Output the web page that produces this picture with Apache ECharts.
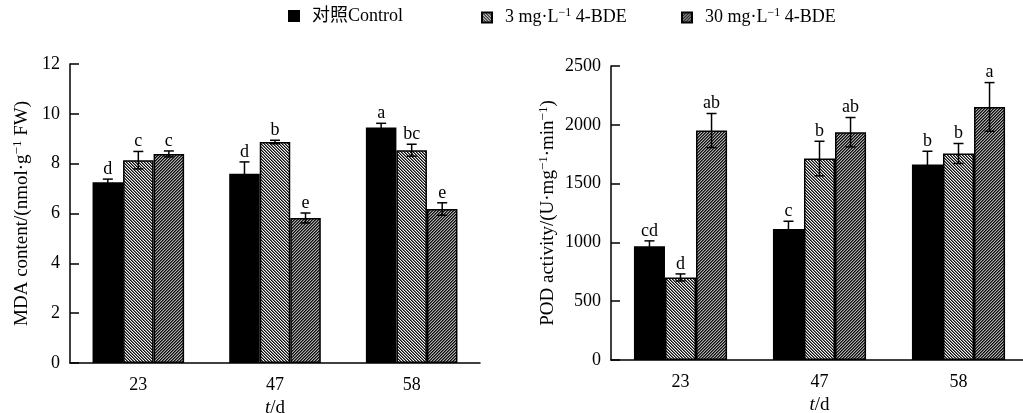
<!DOCTYPE html>
<html>
<head>
<meta charset="utf-8">
<script src="https://cdn.jsdelivr.net/npm/echarts@6/dist/echarts.min.js"></script>
<style>
  html, body { margin: 0; padding: 0; background: #fff; }
  #chart { width: 1023px; height: 413px; }
</style>
</head>
<body>
<div id="chart"></div>
<script>
// categories (days)
var days = ["23", "47", "58"];

// MDA content
var mdaControl = [7.25, 7.6, 9.45];
var mdaControlErr = [0.13, 0.47, 0.17];
var mdaControlSig = ["d", "d", "a"];
var mda3 = [8.14, 8.87, 8.54];
var mda3Err = [0.35, 0.07, 0.24];
var mda3Sig = ["c", "b", "bc"];
var mda30 = [8.39, 5.82, 6.18];
var mda30Err = [0.12, 0.2, 0.25];
var mda30Sig = ["c", "e", "e"];

// POD activity
var podControl = [968, 1115, 1662];
var podControlErr = [45, 65, 113];
var podControlSig = ["cd", "c", "b"];
var pod3 = [702, 1713, 1756];
var pod3Err = [30, 147, 85];
var pod3Sig = ["d", "b", "b"];
var pod30 = [1951, 1937, 2152];
var pod30Err = [145, 125, 207];
var pod30Sig = ["ab", "ab", "a"];

var names = ["对照Control", "3 mg·L−1 4-BDE", "30 mg·L−1 4-BDE"];
var FONT = "'Liberation Serif', 'Noto Sans CJK SC', serif";
var GAP = 0.33;

// striped fill, dir 1 = "/" and -1 = "\", period 3px
function stripes(dir, cols) {
  var c = document.createElement("canvas");
  c.width = 3; c.height = 3;
  var ctx = c.getContext("2d");
  var img = ctx.createImageData(3, 3);
  for (var y = 0; y < 3; y++) {
    for (var x = 0; x < 3; x++) {
      var k = dir > 0 ? (x + y) % 3 : (x - y + 6) % 3;
      var col = cols[k];
      var p = (y * 3 + x) * 4;
      img.data[p] = col; img.data[p + 1] = col; img.data[p + 2] = col; img.data[p + 3] = 255;
    }
  }
  ctx.putImageData(img, 0, 0);
  return { image: c, repeat: "repeat" };
}

var fills = [
  "#000",
  stripes(-1, [15, 110, 245]),
  stripes(1, [15, 80, 175])
];

function barSeries(i, idx, vals) {
  return {
    name: names[i],
    type: "bar",
    xAxisIndex: idx,
    yAxisIndex: idx,
    barGap: 0,
    barCategoryGap: GAP * 100 + "%",
    itemStyle: { color: fills[i], borderColor: "#000", borderWidth: 1.5 },
    data: vals
  };
}

function errSeries(k, idx, vals, errs, sig) {
  return {
    type: "custom",
    xAxisIndex: idx,
    yAxisIndex: idx,
    z: 5,
    silent: true,
    data: vals.map(function (v, i) { return [i, v, errs[i]]; }),
    renderItem: function (params, api) {
      var x = api.value(0), v = api.value(1), e = api.value(2);
      var band = api.size([1, 0])[0];
      var bw = band * (1 - GAP) / 3;
      var hi = api.coord([x, v + e]);
      var lo = api.coord([x, v - e]);
      var cx = hi[0] + k * bw;
      var st = { stroke: "#000", lineWidth: 1.5 };
      return {
        type: "group",
        children: [
          { type: "line", shape: { x1: cx, y1: hi[1], x2: cx, y2: lo[1] }, style: st },
          { type: "line", shape: { x1: cx - 5, y1: hi[1], x2: cx + 5, y2: hi[1] }, style: st },
          { type: "line", shape: { x1: cx - 5, y1: lo[1], x2: cx + 5, y2: lo[1] }, style: st },
          {
            type: "text",
            x: cx, y: hi[1] - 1,
            style: {
              text: sig[params.dataIndex], fill: "#000",
              font: "18px " + FONT, textAlign: "center", textVerticalAlign: "bottom"
            }
          }
        ]
      };
    }
  };
}

var lineStyle = { color: "#000", width: 1.5 };
var nameRich = {
  n: { fontFamily: FONT, fontSize: 19, color: "#000" },
  s: { fontFamily: FONT, fontSize: 13, color: "#000", padding: [0, 0, 9, 0] },
  i: { fontFamily: FONT, fontSize: 19, color: "#000", fontStyle: "italic" }
};

function xAxis(idx) {
  return {
    type: "category",
    gridIndex: idx,
    data: days,
    name: "{i|t}{n|/d}",
    nameLocation: "middle",
    nameGap: 35,
    nameTextStyle: { rich: nameRich },
    axisLine: { lineStyle: lineStyle },
    axisTick: { inside: true, length: 7, lineStyle: lineStyle },
    axisLabel: { color: "#000", fontFamily: FONT, fontSize: 18, margin: 13 }
  };
}

function yAxis(idx, max, interval, name, gap) {
  return {
    type: "value",
    gridIndex: idx,
    min: 0, max: max, interval: interval,
    name: name,
    nameLocation: "middle",
    nameGap: gap,
    nameTextStyle: { rich: nameRich },
    splitLine: { show: false },
    axisLine: { show: true, lineStyle: lineStyle },
    axisTick: { show: true, inside: true, length: 9, lineStyle: lineStyle },
    axisLabel: {
      color: "#000", fontFamily: FONT, fontSize: 18, margin: 10,
      formatter: function (v) { return String(v); }
    }
  };
}

function legend(i, left) {
  return {
    data: [names[i]],
    top: 7,
    left: left,
    padding: 0,
    itemWidth: 10,
    itemHeight: 10,
    itemGap: 0,
    icon: "rect",
    selectedMode: false,
    formatter: function (n) {
      if (n.indexOf("L−1") < 0) return "{t|" + n + "}";
      var p = n.split("L−1");
      return "{t|" + p[0] + "L}{s|−1}{t|" + p[1] + "}";
    },
    textStyle: {
      padding: [0, 0, 0, 8],
      rich: {
        t: { fontFamily: FONT, fontSize: 18, color: "#000" },
        s: { fontFamily: FONT, fontSize: 12, color: "#000", padding: [0, 0, 9, 0] }
      }
    }
  };
}

var chart = echarts.init(document.getElementById("chart"));
chart.setOption({
  animation: false,
  backgroundColor: "#fff",
  legend: [legend(0, 288), legend(1, 481), legend(2, 681)],
  grid: [
    { left: 70, right: 543, top: 64, bottom: 50, outerBoundsMode: "none" },
    { left: 611, right: -5, top: 66, bottom: 53, outerBoundsMode: "none" }
  ],
  xAxis: [xAxis(0), xAxis(1)],
  yAxis: [
    yAxis(0, 12, 2, "{n|MDA content/(nmol·g}{s|−1}{n| FW)}", 37),
    yAxis(1, 2500, 500, "{n|POD activity/(U·mg}{s|−1}{n|·min}{s|−1}{n|)}", 52)
  ],
  series: [
    barSeries(0, 0, mdaControl),
    barSeries(1, 0, mda3),
    barSeries(2, 0, mda30),
    barSeries(0, 1, podControl),
    barSeries(1, 1, pod3),
    barSeries(2, 1, pod30),
    errSeries(-1, 0, mdaControl, mdaControlErr, mdaControlSig),
    errSeries(0, 0, mda3, mda3Err, mda3Sig),
    errSeries(1, 0, mda30, mda30Err, mda30Sig),
    errSeries(-1, 1, podControl, podControlErr, podControlSig),
    errSeries(0, 1, pod3, pod3Err, pod3Sig),
    errSeries(1, 1, pod30, pod30Err, pod30Sig)
  ]
});
</script>
</body>
</html>
